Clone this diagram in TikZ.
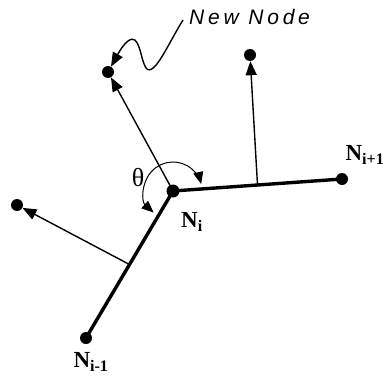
\documentclass[tikz,border=0pt]{standalone}
\usepackage{fontspec}
\setmainfont{Liberation Serif}
\newfontfamily\notefont[LetterSpace=18]{Liberation Sans}
\usetikzlibrary{calc,arrows.meta}

\tikzset{
  dot/.style={circle,fill=black,inner sep=0pt,minimum size=12pt},
  nlabel/.style={font=\fontsize{23}{23}\selectfont\bfseries,inner sep=0pt},
  segment/.style={line width=3.4pt},
  push/.style={line width=1.4pt,-{Triangle[length=14pt,width=11pt]}},
}

\begin{document}
\begin{tikzpicture}[x=1pt,y=1pt]
  \useasboundingbox (0,0) rectangle (390,384);

  % nodes of the contour
  \node[dot,minimum size=13pt] (ni) at (173,193) {};
  \node[dot] (nip) at (342,205) {};
  \node[dot] (nim) at (86,46) {};

  % moved nodes
  \node[dot] (new) at (108,312) {};
  \node[dot] (up) at (250,329) {};
  \node[dot] (left) at (17,179) {};

  \coordinate (midp) at ($(ni.center)!0.5!(nip.center)$);
  \coordinate (midm) at ($(ni.center)!0.5!(nim.center)$);

  \draw[segment] (ni.center) -- (nip.center);
  \draw[segment] (ni.center) -- (nim.center);

  \draw[push] (ni.center) -- (new);
  \draw[push] (midp) -- (up);
  \draw[push] (midm) -- (left);

  % angle
  \draw[line width=1pt,{Triangle[length=12pt,width=10pt]}-{Triangle[length=12pt,width=10pt]}]
    ([shift={(228:29pt)}]ni.center) arc[start angle=228,end angle=14,radius=29pt];
  \node[font=\fontsize{26}{26}\selectfont] (theta) at (138,206) {θ};

  \node[nlabel] (lip) at (365,229) {N\textsubscript{i+1}};
  \node[nlabel] (li) at (192,162) {N\textsubscript{i}};
  \node[nlabel] (lim) at (91,22) {N\textsubscript{i-1}};

  % note
  \node[font=\notefont\itshape\fontsize{21}{21}\selectfont,anchor=west,inner sep=0pt] (note) at (189,367) {New Node};
  \draw[line width=1.4pt,-{Triangle[length=14pt,width=11pt]}]
    (183,364) .. controls (168,340) and (154,306) .. (146,316)
    .. controls (140,325) and (140,352) .. (128,343)
    .. controls (122,338) and (118,330) .. (new);
\end{tikzpicture}
\end{document}
